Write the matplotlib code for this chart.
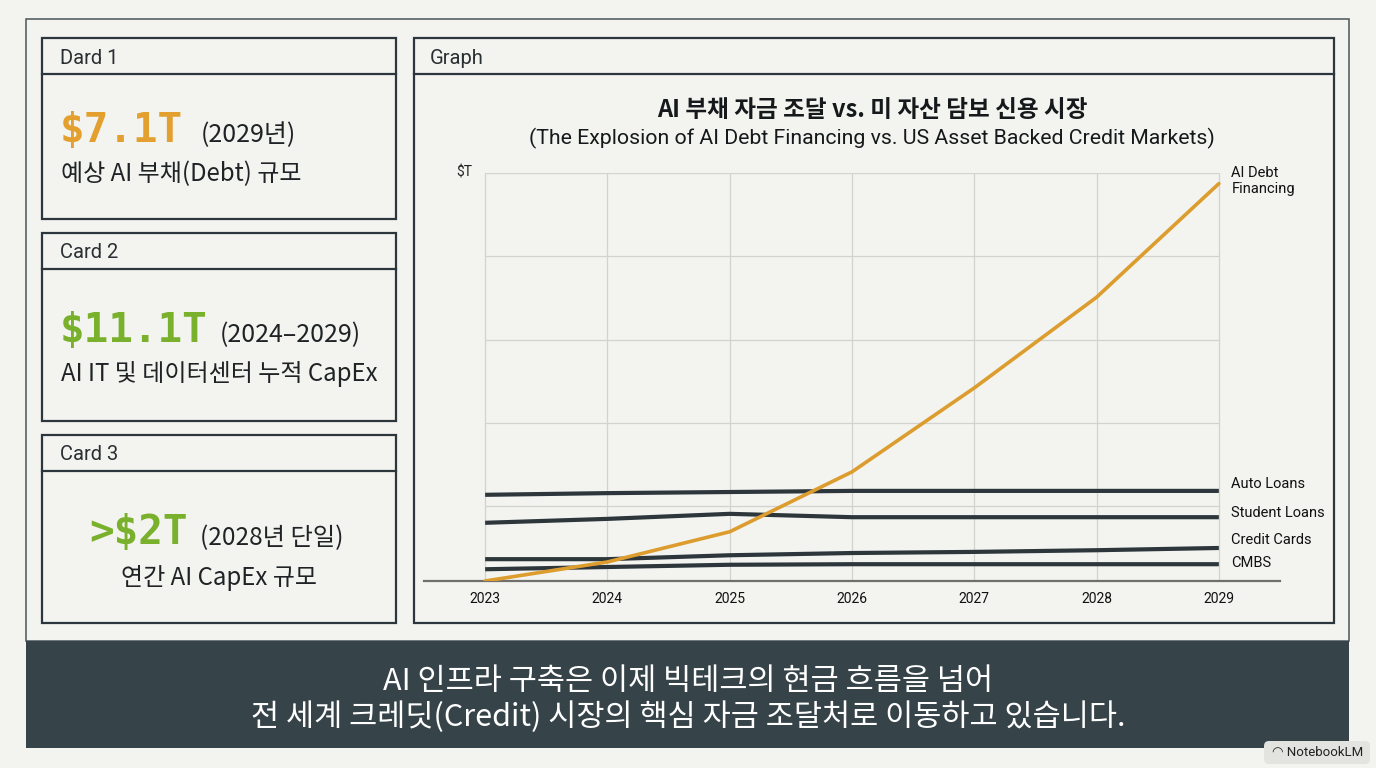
import matplotlib
matplotlib.use("Agg")
import matplotlib.pyplot as plt
from matplotlib.patches import Rectangle, FancyBboxPatch

# ---- data ($T) ----
years = [2023, 2024, 2025, 2026, 2027, 2028, 2029]
ai_debt = [0.0, 0.34, 0.88, 1.95, 3.45, 5.07, 7.10]
auto_loans = [1.54, 1.57, 1.59, 1.61, 1.61, 1.61, 1.61]
student_loans = [1.04, 1.11, 1.20, 1.14, 1.14, 1.14, 1.14]
credit_cards = [0.39, 0.39, 0.46, 0.50, 0.52, 0.55, 0.59]
cmbs = [0.21, 0.25, 0.29, 0.30, 0.30, 0.30, 0.30]
grid_levels = [1.34, 2.82, 4.30, 5.80, 7.29]

series_names = ["Auto Loans", "Student Loans", "Credit Cards", "CMBS"]
label_offsets = [7, 4, 8, 1]  # px above line end

card_titles = ["Dard 1", "Card 2", "Card 3"]
card_big = ["$7.1T", "$11.1T", ">$2T"]
card_note = ["(2029년)", "(2024–2029)", "(2028년 단일)"]
card_desc = ["예상 AI 부채(Debt) 규모", "AI IT 및 데이터센터 누적 CapEx", "연간 AI CapEx 규모"]

title = "AI 부채 자금 조달 vs. 미 자산 담보 신용 시장"
subtitle = "(The Explosion of AI Debt Financing vs. US Asset Backed Credit Markets)"
caption = ["AI 인프라 구축은 이제 빅테크의 현금 흐름을 넘어",
           "전 세계 크레딧(Credit) 시장의 핵심 자금 조달처로 이동하고 있습니다."]

BG = "#f3f3ef"
INK = "#2b373d"
ORANGE = "#e3a02f"
LINE_OR = "#dc9d2e"
GREEN = "#79b02c"
BAND = "#364349"
KR = ["Noto Sans CJK KR", "DejaVu Sans"]
RB = ["Roboto", "Noto Sans CJK KR", "DejaVu Sans"]
MONO = ["DejaVu Sans Mono"]

W, H = 1376, 768
fig = plt.figure(figsize=(W / 100, H / 100), dpi=100, facecolor=BG)

# full-figure layout layer in pixel coords
bg = fig.add_axes([0, 0, 1, 1])
bg.set_xlim(0, W)
bg.set_ylim(H, 0)
bg.axis("off")


def box(x0, y0, x1, y1, lw=1.6, fc="none", ec=INK, z=1):
    bg.add_patch(Rectangle((x0, y0), x1 - x0, y1 - y0, fill=fc != "none",
                           facecolor=fc, edgecolor=ec, lw=lw, zorder=z))


# outer frame + caption band
box(26, 19, 1349, 641, lw=1.1, ec="#4a5559")
box(26, 641, 1349, 748, lw=0, fc=BAND, ec=BAND)
for i, line in enumerate(caption):
    bg.text(688, 681 + 36 * i, line, color="white", fontsize=22, family=KR,
            ha="center", va="center")

# cards
card_tops = [38, 233, 435]
card_bots = [219, 421, 623]
big_colors = [ORANGE, GREEN, GREEN]
for i in range(3):
    t, b = card_tops[i], card_bots[i]
    box(42, t, 396, b)
    bg.plot([42, 396], [t + 36, t + 36], color=INK, lw=1.6)
    bg.text(60, t + 20, card_titles[i], fontsize=14.5, family=RB, color="#2a2f33",
            va="center", ha="left")

note_size = [18, 18]
# card 1 & 2: left aligned
for i in range(2):
    t = card_tops[i]
    dy = 92 if i == 0 else 97
    tb = bg.text(60, t + dy, card_big[i], fontsize=29.5, family=MONO, weight="bold",
                 color=big_colors[i], va="center", ha="left")
    fig.canvas.draw()
    ext = tb.get_window_extent()
    bg.text(ext.x1 + (18 if i == 0 else 12), t + dy + 5, card_note[i],
            fontsize=note_size[i], family=KR, color="#1f2326", va="center", ha="left")
    bg.text(61, t + dy + 44, card_desc[i], fontsize=17.3, family=KR, color="#1f2326",
            va="center", ha="left")

# card 3: centred
t = card_tops[2]
tb = bg.text(0, t + 98, card_big[2], fontsize=29.5, family=MONO, weight="bold",
             color=GREEN, va="center", ha="left")
tn = bg.text(0, t + 103, card_note[2], fontsize=17.5, family=KR, color="#1f2326",
             va="center", ha="left")
fig.canvas.draw()
w1 = tb.get_window_extent().width
w2 = tn.get_window_extent().width
x0 = 216 - (w1 + 12 + w2) / 2
tb.set_x(x0)
tn.set_x(x0 + w1 + 12)
bg.text(219, t + 143, card_desc[2], fontsize=17.3, family=KR, color="#1f2326",
        va="center", ha="center")

# graph panel
box(414, 38, 1334, 623)
bg.plot([414, 1334], [74, 74], color=INK, lw=1.6)
bg.text(430, 58, "Graph", fontsize=14.5, family=RB, color="#2a2f33", va="center")
bg.text(872, 110, title, fontsize=17, family=KR, weight="bold", color="#15191b",
        ha="center", va="center")
bg.text(872, 138, subtitle, fontsize=15.3, family=RB, color="#15191b",
        ha="center", va="center")
bg.text(464, 173, "$T", fontsize=10, family=RB, color="#222", ha="center", va="center")

# NotebookLM badge
bg.add_patch(FancyBboxPatch((1264, 741), 106, 23, boxstyle="round,pad=0,rounding_size=5",
                            facecolor="#e3e3df", edgecolor="none"))
bg.text(1318, 753, "◠ NotebookLM", fontsize=9.5, family=RB, color="#222",
        ha="center", va="center")

# ---- chart axes ----
x_left, x_right, y_top, y_bot = 424, 1280, 173, 581
ax = fig.add_axes([x_left / W, 1 - y_bot / H, (x_right - x_left) / W, (y_bot - y_top) / H])
ax.set_facecolor("none")
ax.set_xlim(2022.5, 2029.5)
ax.set_ylim(0, grid_levels[-1])
for s in ["top", "right", "left"]:
    ax.spines[s].set_visible(False)
ax.spines["bottom"].set_color("#6f6f6c")
ax.spines["bottom"].set_linewidth(1.6)
ax.set_yticks([])
ax.set_xticks(years)
ax.set_xticklabels([str(y) for y in years], fontsize=10, family=RB, color="#111")
ax.tick_params(axis="x", length=0, pad=8)

ax.hlines(grid_levels, years[0], years[-1], color="#d2d2cf", lw=0.9, zorder=1)
ax.vlines(years, 0, grid_levels[-1], color="#d2d2cf", lw=0.9, zorder=1)

dark = [auto_loans, student_loans, credit_cards, cmbs]
for vals, name, off in zip(dark, series_names, label_offsets):
    ax.plot(years, vals, color="#2c363b", lw=3.0, solid_capstyle="butt", zorder=3)
    ax.annotate(name, (years[-1], vals[-1]), xytext=(9, off * 0.72),
                textcoords="offset points", fontsize=10.5, family=RB,
                color="#111", va="center", ha="left", annotation_clip=False)

ax.plot(years, ai_debt, color=LINE_OR, lw=2.6, zorder=4, solid_capstyle="round")
ax.annotate("AI Debt\nFinancing", (years[-1], ai_debt[-1]), xytext=(9, 2),
            textcoords="offset points", fontsize=10.5, family=RB, color="#111",
            va="center", ha="left", linespacing=1.2, annotation_clip=False)

fig.savefig("out.png", dpi=100, facecolor=BG)
